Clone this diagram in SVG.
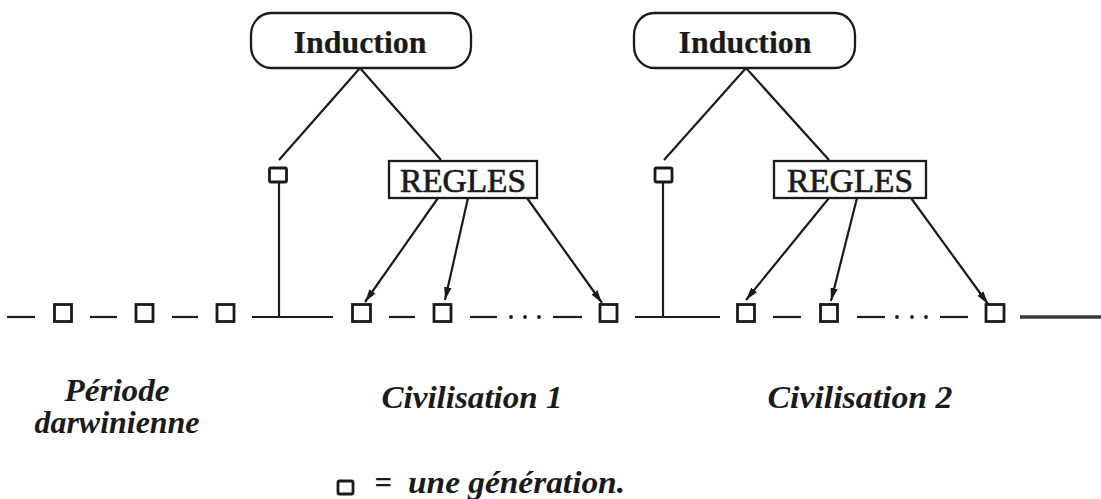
<svg xmlns="http://www.w3.org/2000/svg" width="1101" height="499" viewBox="0 0 1101 499">
<style>
.ln{stroke:#1a1a1a;stroke-width:2.2;fill:none}
.sq{stroke:#1a1a1a;stroke-width:2.8;fill:none}
.box{stroke:#1a1a1a;stroke-width:2.3;fill:#fff}
.rm{font-family:"Liberation Serif","Times New Roman",serif;font-size:34px;fill:#1a1a1a;stroke:#1a1a1a;stroke-width:0.7;text-anchor:middle}
.bd{font-weight:bold;font-size:32px;stroke-width:0.2}
.it{font-family:"Liberation Serif","Times New Roman",serif;font-style:italic;font-weight:bold;font-size:31px;fill:#1a1a1a;text-anchor:middle}
.dot{fill:#1a1a1a}
</style>
<defs>
<marker id="ah" markerUnits="userSpaceOnUse" markerWidth="14" markerHeight="9" refX="13" refY="4.5" orient="auto">
<path d="M0,0.8 L13,4.5 L0,8.2 Z" fill="#1a1a1a"/>
</marker>
</defs>
<rect width="1101" height="499" fill="#fff"/>

<g id="connectors">
<line class="ln" x1="360" y1="68" x2="279" y2="160"/>
<line class="ln" x1="360" y1="68" x2="441" y2="160"/>
<line class="ln" x1="279" y1="183" x2="279" y2="317"/>
<line class="ln" x1="746" y1="68" x2="664" y2="160"/>
<line class="ln" x1="746" y1="68" x2="829" y2="160"/>
<line class="ln" x1="663" y1="183" x2="663" y2="317"/>
<line class="ln" x1="438" y1="198" x2="365" y2="302" marker-end="url(#ah)"/>
<line class="ln" x1="468" y1="198" x2="445" y2="300" marker-end="url(#ah)"/>
<line class="ln" x1="527" y1="198" x2="602" y2="303" marker-end="url(#ah)"/>
<line class="ln" x1="829" y1="198" x2="746" y2="300" marker-end="url(#ah)"/>
<line class="ln" x1="857" y1="198" x2="831" y2="301" marker-end="url(#ah)"/>
<line class="ln" x1="911" y1="198" x2="988" y2="304" marker-end="url(#ah)"/>
<line class="ln" x1="7" y1="317" x2="35" y2="317"/>
<line class="ln" x1="90" y1="317" x2="117" y2="317"/>
<line class="ln" x1="172" y1="317" x2="198" y2="317"/>
<line class="ln" x1="252" y1="317" x2="333" y2="317"/>
<line class="ln" x1="389" y1="317" x2="415" y2="317"/>
<line class="ln" x1="470" y1="317" x2="497" y2="317"/>
<circle class="dot" cx="511" cy="317" r="1.9"/>
<circle class="dot" cx="525" cy="317" r="1.9"/>
<circle class="dot" cx="539" cy="317" r="1.9"/>
<line class="ln" x1="553" y1="317" x2="582" y2="317"/>
<line class="ln" x1="635" y1="317" x2="720" y2="317"/>
<line class="ln" x1="773" y1="317" x2="801" y2="317"/>
<line class="ln" x1="857" y1="317" x2="885" y2="317"/>
<circle class="dot" cx="897" cy="317" r="1.9"/>
<circle class="dot" cx="912" cy="317" r="1.9"/>
<circle class="dot" cx="926" cy="317" r="1.9"/>
<line class="ln" x1="940" y1="317" x2="968" y2="317"/>
<line x1="1020" y1="317" x2="1101" y2="317" stroke="#3a3a3a" stroke-width="3.5"/>
</g>

<g id="induction1">
<rect class="box" x="251" y="13" width="220" height="55" rx="20" ry="22"/>
<text class="rm bd" x="360" y="53" textLength="133" lengthAdjust="spacingAndGlyphs">Induction</text>
</g>
<g id="induction2">
<rect class="box" x="634" y="13" width="221" height="55" rx="20" ry="22"/>
<text class="rm bd" x="745" y="53" textLength="133" lengthAdjust="spacingAndGlyphs">Induction</text>
</g>
<g id="regles1">
<rect class="box" x="389" y="161" width="148" height="37"/>
<text class="rm" x="463" y="192" textLength="126" lengthAdjust="spacingAndGlyphs">REGLES</text>
</g>
<g id="regles2">
<rect class="box" x="774" y="161" width="152" height="37"/>
<text class="rm" x="850" y="192" textLength="126" lengthAdjust="spacingAndGlyphs">REGLES</text>
</g>

<g id="top-squares">
<rect class="sq" x="269.5" y="168" width="17" height="14" rx="1.5"/>
<rect class="sq" x="655" y="168" width="17" height="14" rx="1.5"/>
</g>

<g id="generations">
<rect class="sq" x="54.5" y="304.5" width="17" height="17"/>
<rect class="sq" x="136" y="304.5" width="17" height="17"/>
<rect class="sq" x="217" y="304.5" width="17" height="17"/>
<rect class="sq" x="352.5" y="304.5" width="18" height="17"/>
<rect class="sq" x="434" y="304.5" width="17" height="17"/>
<rect class="sq" x="600" y="304.5" width="17" height="17"/>
<rect class="sq" x="737.5" y="304.5" width="17" height="17"/>
<rect class="sq" x="820.5" y="304.5" width="17" height="17"/>
<rect class="sq" x="986" y="304.5" width="18" height="17"/>
</g>

<g id="labels">
<text class="it" x="117" y="401" font-size="26" textLength="105" lengthAdjust="spacingAndGlyphs">Période</text>
<text class="it" x="117" y="433" font-size="26" textLength="165" lengthAdjust="spacingAndGlyphs">darwinienne</text>
<text class="it" x="472" y="408" textLength="181" lengthAdjust="spacingAndGlyphs">Civilisation 1</text>
<text class="it" x="860" y="408" textLength="185" lengthAdjust="spacingAndGlyphs">Civilisation 2</text>
</g>

<g id="legend">
<rect class="sq" x="338" y="481" width="15" height="13" rx="1.5"/>
<text class="it" x="383" y="493" font-style="normal" font-weight="normal" font-size="30">=</text>
<text class="it" x="408" y="493" style="text-anchor:start" textLength="217" lengthAdjust="spacingAndGlyphs">une génération.</text>
</g>
</svg>
